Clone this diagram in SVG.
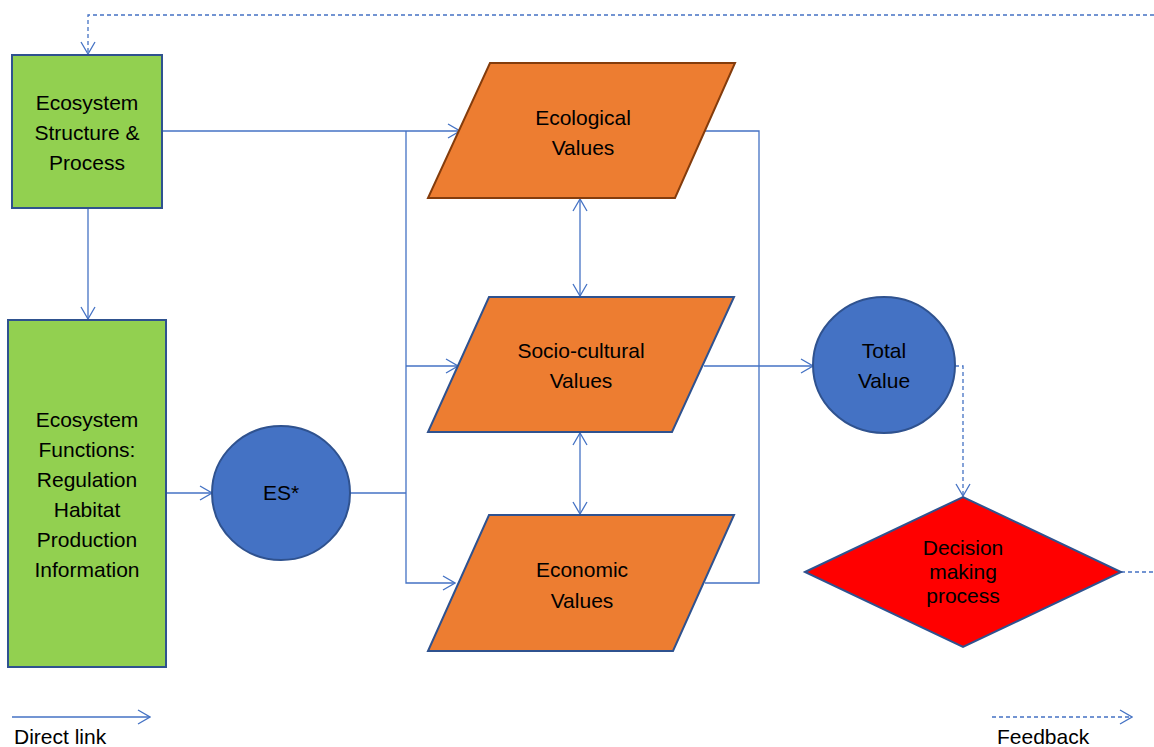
<svg xmlns="http://www.w3.org/2000/svg" width="1154" height="747" viewBox="0 0 1154 747">
<style>
text{font-family:"Liberation Sans",Arial,sans-serif;font-size:21px;fill:#000;text-anchor:middle}
.lg{text-anchor:start}
.c{fill:none;stroke:#4472C4;stroke-width:1.3}
.d{fill:none;stroke:#4472C4;stroke-width:1.3;stroke-dasharray:4 3}
.box{fill:#92D050;stroke:#2F528F;stroke-width:2}
.par{fill:#ED7D31;stroke:#2F528F;stroke-width:2}
.circ{fill:#4472C4;stroke:#2F528F;stroke-width:2}
</style>
<defs>
<marker id="a" viewBox="0 0 14 16" refX="13" refY="8" markerWidth="14" markerHeight="16" markerUnits="userSpaceOnUse" orient="auto-start-reverse">
<path d="M1,1 L13,8 L1,15" fill="none" stroke="#4472C4" stroke-width="1.3"/>
</marker>
</defs>
<g id="connectors">
<path class="d" d="M1154,15 H88 V54" marker-end="url(#a)"/>
<path class="c" d="M88,208 V319" marker-end="url(#a)"/>
<path class="c" d="M162,131 H460" marker-end="url(#a)"/>
<path class="c" d="M406,131 V583 H455" marker-end="url(#a)"/>
<path class="c" d="M406,366 H458" marker-end="url(#a)"/>
<path class="c" d="M166,493 H212" marker-end="url(#a)"/>
<path class="c" d="M350,493 H406"/>
<path class="c" d="M705,131 H759 V583 H705"/>
<path class="c" d="M704,366 H813" marker-end="url(#a)"/>
<path class="c" d="M580,199 V296" marker-start="url(#a)" marker-end="url(#a)"/>
<path class="c" d="M580,433 V514" marker-start="url(#a)" marker-end="url(#a)"/>
<path class="d" d="M955,366 H963 V496" marker-end="url(#a)"/>
<path class="d" d="M1121,572 H1154"/>
<path class="c" d="M12,717 H150" marker-end="url(#a)"/>
<path class="d" d="M992,717 H1132" marker-end="url(#a)"/>
</g>
<g id="structure">
<rect class="box" x="12" y="55" width="150" height="153"/>
<text x="87" y="110">Ecosystem</text>
<text x="87" y="140">Structure &amp;</text>
<text x="87" y="170">Process</text>
</g>
<g id="functions">
<rect class="box" x="8" y="320" width="158" height="347"/>
<text x="87" y="427">Ecosystem</text>
<text x="87" y="457">Functions:</text>
<text x="87" y="487">Regulation</text>
<text x="87" y="517">Habitat</text>
<text x="87" y="547">Production</text>
<text x="87" y="577">Information</text>
</g>
<g id="es">
<ellipse class="circ" cx="281" cy="493" rx="69" ry="67"/>
<text x="281" y="500">ES*</text>
</g>
<g id="ecological">
<polygon class="par" style="stroke:#843C0C" points="490,63 735,63 675,198 428,198"/>
<text x="583" y="125">Ecological</text>
<text x="583" y="155">Values</text>
</g>
<g id="socio">
<polygon class="par" points="489,297 734,297 672,432 428,432"/>
<text x="581" y="358">Socio-cultural</text>
<text x="581" y="388">Values</text>
</g>
<g id="economic">
<polygon class="par" points="489,515 734,515 673,651 428,651"/>
<text x="582" y="577">Economic</text>
<text x="582" y="608">Values</text>
</g>
<g id="total">
<ellipse class="circ" cx="884" cy="365" rx="71" ry="68"/>
<text x="884" y="358">Total</text>
<text x="884" y="388">Value</text>
</g>
<g id="decision">
<polygon points="805,572 963,497 1121,572 963,647" fill="#FF0000" stroke="#2F528F" stroke-width="2"/>
<text x="963" y="555">Decision</text>
<text x="963" y="579">making</text>
<text x="963" y="603">process</text>
</g>
<g id="legend">
<text class="lg" x="14" y="744">Direct link</text>
<text class="lg" x="997" y="744">Feedback</text>
</g>
</svg>
